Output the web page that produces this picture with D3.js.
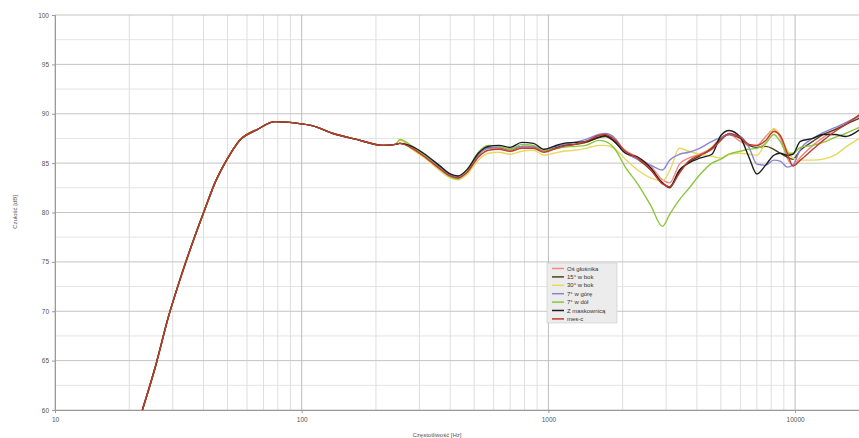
<!DOCTYPE html>
<html>
<head>
<meta charset="utf-8">
<script src="https://cdn.jsdelivr.net/npm/d3@7"></script>
<style>
  body { margin: 0; background: #fff; }
  svg { display: block; }
</style>
</head>
<body>
<div id="chart"></div>
<script>
// wspólny przebieg poniżej ~250 Hz (wszystkie pomiary się pokrywają)
const lowFreq = [22.6, 25.4, 28.8, 32.1, 36.4, 40.6, 44.5, 49.6, 56, 66, 78, 98, 110, 134, 167, 214, 240]
const lowLevel = [60.0, 64.2, 69.4, 73.2, 77.2, 80.4, 83.0, 85.3, 87.3, 88.4, 89.2, 89.0, 88.8, 88.0, 87.4, 86.8, 86.9]

// siatka częstotliwości dla części, w której krzywe się rozchodzą
const freq = [250, 280, 320, 360, 400, 430, 470, 520, 570, 630, 700, 780, 870, 960, 1050, 1150, 1280, 1420, 1600, 1700,
  1850, 2050, 2300, 2600, 2900, 3100, 3400, 3700, 4100, 4600, 5000, 5400, 6000, 6500, 7000, 7600, 8200, 8700, 9300, 9800,
  10500, 11800, 13000, 14500, 16000, 18500]

const osGlosnika = [87.0, 86.6, 85.6, 84.6, 83.8, 83.6, 84.2, 85.8, 86.5, 86.5, 86.3, 86.6, 86.6, 86.2, 86.5, 86.8, 86.9, 87.1, 87.7, 87.8,
  87.3, 86.3, 85.6, 84.7, 83.3, 83.0, 84.9, 85.5, 85.9, 86.6, 87.6, 87.9, 87.2, 86.8, 86.8, 87.7, 88.4, 87.6, 85.5, 84.8,
  85.6, 86.8, 87.6, 88.4, 89.0, 90.0]
const bok15 = [87.0, 86.6, 85.7, 84.7, 83.8, 83.5, 84.2, 85.9, 86.6, 86.6, 86.4, 86.7, 86.7, 86.3, 86.5, 86.8, 86.9, 87.1, 87.6, 87.7,
  87.2, 86.1, 85.4, 84.3, 83.0, 82.5, 84.2, 85.1, 85.7, 86.5, 87.5, 87.9, 87.5, 86.8, 86.6, 86.7, 86.4, 86.0, 85.6, 85.4,
  86.3, 87.2, 87.9, 88.4, 88.9, 89.6]
const bok30 = [87.3, 86.4, 85.4, 84.3, 83.5, 83.3, 83.9, 85.3, 86.0, 86.1, 85.9, 86.2, 86.3, 85.8, 86.0, 86.2, 86.3, 86.5, 86.8, 86.8,
  86.5, 85.4, 84.3, 83.5, 83.2, 84.2, 86.5, 86.2, 85.9, 85.7, 85.5, 85.9, 86.0, 85.9, 85.8, 87.1, 88.5, 87.8, 86.3, 85.5,
  85.3, 85.3, 85.4, 85.8, 86.6, 87.6]
const gora7 = [87.0, 86.6, 85.7, 84.7, 83.8, 83.6, 84.3, 85.9, 86.5, 86.6, 86.4, 86.7, 86.7, 86.3, 86.6, 86.9, 87.1, 87.4, 87.9, 88.0,
  87.6, 86.1, 85.4, 84.8, 84.3, 85.3, 85.9, 86.1, 86.5, 87.2, 87.6, 87.9, 87.7, 86.6, 84.9, 84.8, 85.3, 85.2, 84.6, 84.8,
  86.4, 87.5, 88.1, 88.6, 89.1, 89.8]
const dol7 = [87.4, 86.7, 85.6, 84.5, 83.6, 83.4, 84.3, 86.1, 86.8, 86.7, 86.4, 86.9, 86.8, 86.3, 86.4, 86.6, 86.7, 86.8, 87.3, 87.2,
  86.5, 84.6, 82.9, 80.7, 78.6, 79.8, 81.3, 82.4, 83.8, 85.0, 85.4, 85.9, 86.2, 86.4, 86.5, 87.0, 87.9, 87.2, 86.0, 86.0,
  86.6, 86.8, 87.1, 87.6, 88.0, 88.7]
const maskownica = [87.0, 86.7, 85.8, 84.8, 83.9, 83.7, 84.4, 86.0, 86.7, 86.8, 86.6, 87.1, 87.0, 86.4, 86.7, 87.0, 87.1, 87.2, 87.6, 87.8,
  87.2, 86.0, 85.6, 84.5, 83.0, 82.6, 84.3, 85.0, 85.5, 85.9, 87.8, 88.3, 87.6, 85.6, 83.9, 84.8, 85.8, 86.0, 85.8, 85.9,
  87.2, 87.5, 87.9, 87.9, 87.7, 88.5]
const mesC = [87.0, 86.5, 85.5, 84.5, 83.7, 83.5, 84.1, 85.6, 86.3, 86.4, 86.2, 86.5, 86.5, 86.1, 86.4, 86.7, 86.9, 87.2, 87.8, 87.9,
  87.4, 86.2, 85.5, 84.3, 82.9, 82.6, 84.0, 85.2, 85.8, 86.4, 87.3, 88.0, 87.6, 86.9, 86.8, 87.3, 88.2, 87.8, 86.0, 84.7,
  85.3, 86.4, 87.3, 88.2, 88.9, 90.0]

const seriesNames = ['Oś głośnika', '15° w bok', '30° w bok', '7° w górę', '7° w dół', 'Z maskownicą', 'mes-c']
const seriesValues = [osGlosnika, bok15, bok30, gora7, dol7, maskownica, mesC]
const seriesColors = ['#f08a84', '#4f4219', '#e8d860', '#8a86d2', '#8cc640', '#1e1e1e', '#c23a2c']

const xTicks = [10, 100, 1000, 10000]
const yTicks = [60, 65, 70, 75, 80, 85, 90, 95, 100]

const width = 859
const height = 438
const margin = { top: 15, left: 55, bottom: 410 }
const decade = 246.7

const svg = d3.select('#chart').append('svg')
  .attr('width', width)
  .attr('height', height)
  .style('font-family', '"Liberation Sans", "DejaVu Sans", sans-serif')

const x = d3.scaleLog()
  .domain([10, 20000])
  .range([margin.left, margin.left + decade * Math.log10(2000)])

const y = d3.scaleLinear()
  .domain([60, 100])
  .range([margin.bottom, margin.top])

const right = x.range()[1]

// siatka
const grid = svg.append('g').attr('class', 'grid')

grid.selectAll('.ymin')
  .data(d3.range(62.5, 100, 5))
  .enter().append('line')
  .attr('x1', margin.left).attr('x2', right)
  .attr('y1', d => y(d)).attr('y2', d => y(d))
  .style('stroke', '#e4e4e4')

grid.selectAll('.xmin')
  .data(x.ticks().filter(d => !xTicks.includes(d)))
  .enter().append('line')
  .attr('x1', d => x(d)).attr('x2', d => x(d))
  .attr('y1', margin.top).attr('y2', margin.bottom)
  .style('stroke', '#dedede')

grid.selectAll('.ymaj')
  .data(yTicks)
  .enter().append('line')
  .attr('x1', margin.left).attr('x2', right)
  .attr('y1', d => y(d)).attr('y2', d => y(d))
  .style('stroke', '#c4c4c4')

grid.selectAll('.xmaj')
  .data(xTicks)
  .enter().append('line')
  .attr('x1', d => x(d)).attr('x2', d => x(d))
  .attr('y1', margin.top).attr('y2', margin.bottom)
  .style('stroke', '#bcbcbc')

// osie
const yAxis = svg.append('g')
  .attr('transform', `translate(${margin.left},0)`)
  .call(d3.axisLeft(y).tickValues(yTicks).tickSize(3).tickPadding(3))
yAxis.select('.domain').style('stroke', '#9a9a9a')
yAxis.selectAll('.tick line').style('stroke', '#9a9a9a')
yAxis.selectAll('.tick text').style('font-size', '6.5px').style('fill', '#555').style('font-family', 'inherit')

const xAxis = svg.append('g')
  .attr('transform', `translate(0,${margin.bottom})`)
  .call(d3.axisBottom(x).tickValues(xTicks).tickFormat(d3.format('d')).tickSize(3).tickPadding(4))
xAxis.select('.domain').style('stroke', '#9a9a9a')
xAxis.selectAll('.tick line').style('stroke', '#9a9a9a')
xAxis.selectAll('.tick text').style('font-size', '6.5px').style('fill', '#555').style('font-family', 'inherit')

svg.append('text')
  .attr('transform', 'translate(17,212) rotate(-90)')
  .attr('text-anchor', 'middle')
  .style('font-size', '6px')
  .style('fill', '#555')
  .text('Czułość [dB]')

svg.append('text')
  .attr('x', 437)
  .attr('y', 437)
  .attr('text-anchor', 'middle')
  .style('font-size', '6px')
  .style('fill', '#555')
  .text('Częstotliwość [Hz]')

// krzywe
const line = d3.line()
  .x(d => x(d[0]))
  .y(d => y(d[1]))
  .curve(d3.curveMonotoneX)

const lowPart = lowFreq.map((f, i) => [f, lowLevel[i]])

seriesValues.forEach((vals, s) => {
  const pts = lowPart.concat(freq.map((f, i) => [f, vals[i]]))
  svg.append('path')
    .datum(pts)
    .attr('d', line)
    .style('fill', 'none')
    .style('stroke', seriesColors[s])
    .style('stroke-width', 1.4)
    .style('stroke-linejoin', 'round')
})

// legenda
const legend = svg.append('g').attr('transform', 'translate(547,263)')

legend.append('rect')
  .attr('width', 70)
  .attr('height', 60)
  .style('fill', '#ececec')
  .style('stroke', '#c8c8c8')
  .style('stroke-width', 0.6)

const item = legend.selectAll('.item')
  .data(seriesNames)
  .enter().append('g')
  .attr('transform', (d, i) => `translate(0,${5.5 + i * 8.4})`)

item.append('line')
  .attr('x1', 5).attr('x2', 17)
  .style('stroke', (d, i) => seriesColors[i])
  .style('stroke-width', 1.5)

item.append('text')
  .attr('x', 20)
  .attr('dy', '0.35em')
  .style('font-size', '6px')
  .style('fill', '#333')
  .text(d => d)
</script>
</body>
</html>
